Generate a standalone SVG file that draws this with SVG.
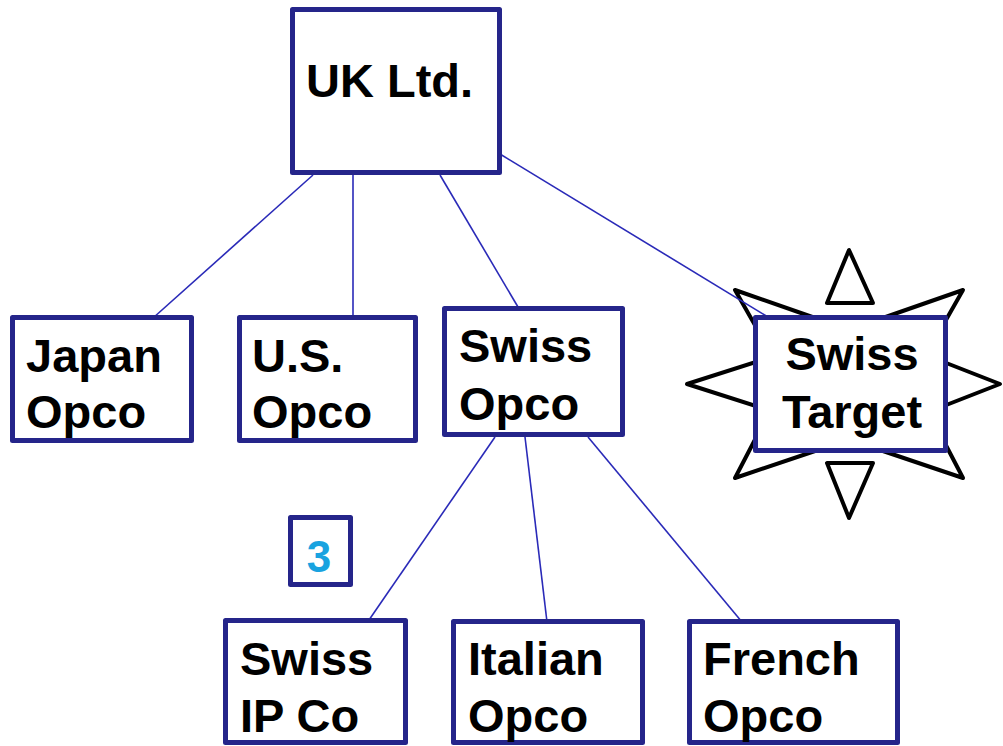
<svg xmlns="http://www.w3.org/2000/svg" width="1003" height="746" viewBox="0 0 1003 746">
  <style>
    .box { fill: #ffffff; stroke: #25258a; stroke-width: 5; stroke-linejoin: round; }
    .lbl { font-family: "Liberation Sans", Arial, sans-serif; font-weight: bold; font-size: 47px; fill: #000000; }
    .mid { text-anchor: middle; }
    .link { stroke: #2a2ab8; stroke-width: 1.6; fill: none; }
    .ray { fill: none; stroke: #000000; stroke-width: 4; stroke-linejoin: round; }
    .num { font-family: "Liberation Sans", Arial, sans-serif; font-weight: bold; font-size: 44px; fill: #19a3e0; text-anchor: middle; }
  </style>
  <rect width="1003" height="746" fill="#ffffff"/>

  <!-- starburst behind the target company -->
  <g id="target-burst">
    <polygon class="ray" points="849,250 827,303 873,303"/>
    <polygon class="ray" points="849,518 827,463 873,463"/>
    <polygon class="ray" points="687,384 765,359 765,409"/>
    <polygon class="ray" points="1000,384 936,359 936,409"/>
    <polygon class="ray" points="735,290 821,320 760,334"/>
    <polygon class="ray" points="963,290 877,320 938,334"/>
    <polygon class="ray" points="735,478 760,430 821,449"/>
    <polygon class="ray" points="963,478 938,430 877,449"/>
  </g>

  <!-- ownership lines -->
  <g id="connectors">
    <line class="link" x1="313" y1="175" x2="153" y2="318"/>
    <line class="link" x1="353" y1="175" x2="353" y2="316"/>
    <line class="link" x1="440" y1="175" x2="518" y2="307"/>
    <line class="link" x1="500" y1="154" x2="768" y2="317"/>
    <line class="link" x1="495" y1="437" x2="369" y2="620"/>
    <line class="link" x1="525" y1="437" x2="547" y2="622"/>
    <line class="link" x1="588" y1="437" x2="742" y2="622"/>
  </g>

  <g id="uk-ltd">
    <rect class="box" x="292.5" y="9.5" width="207" height="163"/>
    <text class="lbl" x="306" y="97">UK Ltd.</text>
  </g>

  <g id="japan-opco">
    <rect class="box" x="12.5" y="317.5" width="179" height="123"/>
    <text class="lbl" x="26" y="372">Japan</text>
    <text class="lbl" x="26" y="428">Opco</text>
  </g>

  <g id="us-opco">
    <rect class="box" x="239.5" y="317.5" width="176" height="123"/>
    <text class="lbl" x="252" y="372">U.S.</text>
    <text class="lbl" x="252" y="428">Opco</text>
  </g>

  <g id="swiss-opco">
    <rect class="box" x="444.5" y="308.5" width="178" height="126"/>
    <text class="lbl" x="459" y="362">Swiss</text>
    <text class="lbl" x="459" y="420">Opco</text>
  </g>

  <g id="swiss-target">
    <rect class="box" x="755.5" y="317.5" width="190" height="133"/>
    <text class="lbl mid" x="852" y="370">Swiss</text>
    <text class="lbl mid" x="852" y="428">Target</text>
  </g>

  <g id="step-3">
    <rect class="box" x="290.5" y="517.5" width="60" height="67"/>
    <text class="num" x="319" y="572">3</text>
  </g>

  <g id="swiss-ip-co">
    <rect class="box" x="225.5" y="620.5" width="180" height="122"/>
    <text class="lbl" x="240" y="675">Swiss</text>
    <text class="lbl" x="240" y="732">IP Co</text>
  </g>

  <g id="italian-opco">
    <rect class="box" x="453.5" y="621.5" width="189" height="121"/>
    <text class="lbl" x="468" y="675">Italian</text>
    <text class="lbl" x="468" y="732">Opco</text>
  </g>

  <g id="french-opco">
    <rect class="box" x="689.5" y="621.5" width="208" height="121"/>
    <text class="lbl" x="703" y="675">French</text>
    <text class="lbl" x="703" y="732">Opco</text>
  </g>
</svg>
